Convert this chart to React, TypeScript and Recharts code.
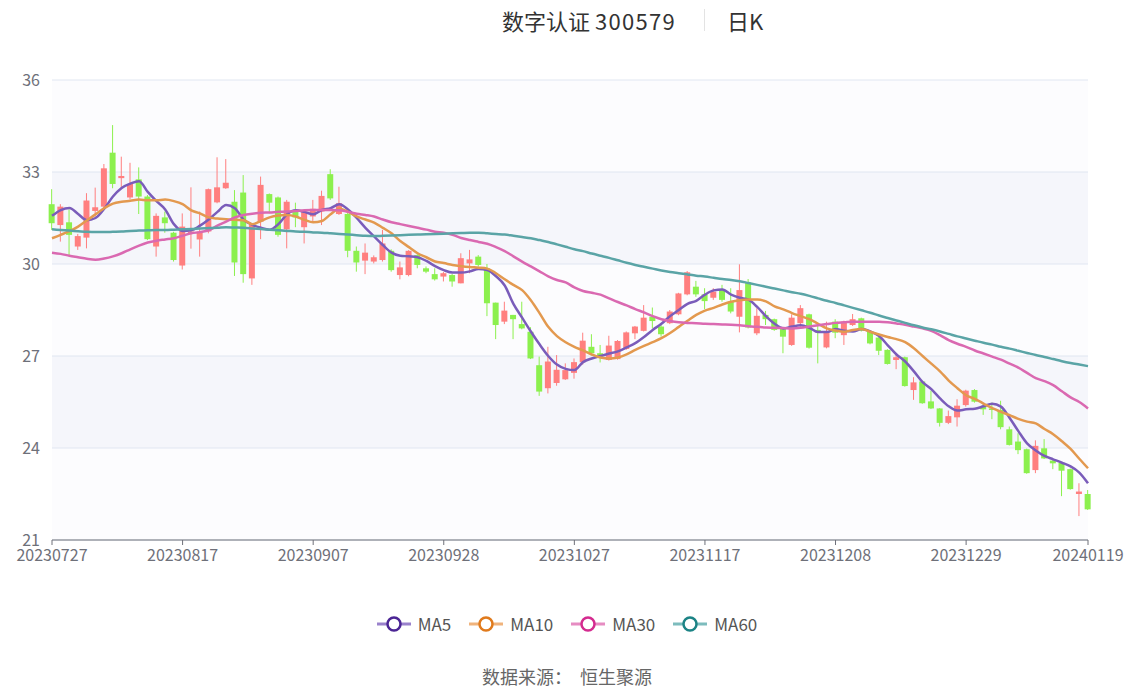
import React from "react";
import {
  ComposedChart,
  Bar,
  Line,
  XAxis,
  YAxis,
  CartesianGrid,
} from "recharts";

// x-axis labels and the candle index they sit on
const tickLabels = [
  "20230727", "20230817", "20230907", "20230928", "20231027",
  "20231117", "20231208", "20231229", "20240119",
];
const tickIndex = [0, 15, 30, 45, 60, 75, 90, 105, 119];
const yTicks = [21, 24, 27, 30, 33, 36];

const opens = [
  31.95, 31.27, 31.36, 30.57, 30.86, 31.73, 31.87, 33.63, 32.8, 32.17,
  32.76, 32.2, 30.57, 31.52, 31.02, 29.95, 31.0, 30.8, 31.06, 32.01,
  32.47, 32.03, 32.33, 29.53, 31.38, 32.28, 32.17, 31.13, 31.74, 31.2,
  31.55, 31.71, 32.93, 31.63, 31.63, 30.43, 30.11, 30.08, 30.13, 30.43,
  29.64, 29.64, 30.29, 29.86, 29.67, 29.59, 29.64, 29.37, 30.02, 30.24,
  29.86, 28.74, 28.12, 28.34, 28.04, 27.79, 26.7, 25.95, 26.12, 26.24,
  26.45, 26.8, 27.3, 27.09, 26.87, 26.9, 27.23, 27.74, 27.82, 28.28,
  27.96, 28.07, 28.36, 29.01, 29.26, 29.01, 28.9, 29.15, 28.77, 28.28,
  29.4, 27.74, 28.34, 28.2, 27.88, 27.36, 28.07, 28.36, 27.85, 27.28,
  28.12, 27.68, 28.01, 28.23, 27.79, 27.6, 27.2, 26.87, 26.96, 25.89,
  26.17, 25.52, 25.29, 24.82, 25.0, 25.4, 25.89, 25.37, 25.29, 25.24,
  24.61, 24.21, 23.96, 23.28, 23.99, 23.59, 23.52, 23.31, 22.5, 22.5,
];
const highs = [
  32.44, 31.95, 31.78, 30.98, 32.31, 32.49, 33.26, 34.53, 33.5, 33.3,
  33.15, 32.25, 31.65, 31.71, 31.05, 31.65, 32.5, 31.71, 32.46, 33.48,
  33.42, 32.41, 32.9, 31.27, 32.85, 32.3, 32.2, 32.09, 32.0, 31.76,
  32.09, 32.39, 33.09, 32.52, 31.66, 30.57, 30.67, 30.28, 31.11, 30.48,
  30.08, 30.45, 30.32, 29.92, 29.86, 29.74, 29.68, 30.35, 30.46, 30.29,
  30.0, 28.74, 28.77, 28.34, 28.77, 27.94, 26.98, 27.3, 27.03, 26.76,
  26.92, 27.76, 27.71, 27.36, 27.66, 27.52, 27.8, 27.98, 28.66, 28.58,
  28.07, 28.5, 29.06, 29.77, 29.45, 29.21, 29.21, 29.32, 29.21, 29.99,
  29.51, 28.56, 28.47, 28.22, 27.9, 28.36, 28.66, 28.38, 28.03, 28.12,
  28.2, 28.15, 28.37, 28.25, 27.82, 27.62, 27.22, 27.09, 26.98, 26.31,
  26.18, 25.87, 25.3, 25.22, 25.59, 25.9, 25.92, 25.43, 25.48, 25.54,
  24.7, 24.48, 23.98, 24.25, 24.29, 23.61, 23.54, 23.33, 22.85, 22.63,
];
const lows = [
  31.11, 30.73, 30.26, 30.46, 30.51, 31.54, 31.82, 32.47, 32.5, 32.11,
  31.63, 30.78, 30.24, 31.02, 30.08, 29.82, 30.5, 30.24, 31.0, 31.98,
  32.45, 29.61, 29.39, 29.32, 30.81, 31.65, 30.89, 30.51, 31.2, 30.67,
  31.4, 31.27, 32.09, 31.6, 30.22, 29.75, 29.67, 30.02, 30.08, 29.75,
  29.5, 29.6, 29.86, 29.7, 29.46, 29.43, 29.26, 29.37, 29.7, 29.91,
  28.3, 27.55, 28.04, 27.55, 27.87, 26.9, 25.7, 25.78, 26.03, 26.22,
  26.26, 26.72, 27.03, 26.79, 26.85, 26.88, 27.2, 27.55, 27.8, 27.9,
  27.63, 28.04, 28.33, 28.98, 28.93, 28.53, 28.83, 28.77, 28.39, 27.77,
  27.9, 27.68, 28.01, 27.82, 27.09, 27.33, 27.93, 27.24, 26.76, 27.25,
  27.58, 27.36, 27.98, 27.8, 27.38, 27.03, 26.72, 26.57, 26.0, 25.57,
  25.44, 25.27, 24.7, 24.78, 24.7, 25.35, 25.48, 25.08, 24.94, 24.61,
  24.08, 23.8, 23.16, 23.18, 23.64, 23.31, 22.43, 22.64, 21.78, 21.98,
];
const closes = [
  31.33, 31.87, 30.95, 30.91, 32.07, 31.85, 33.12, 32.61, 32.87, 32.61,
  32.2, 30.81, 31.57, 31.33, 30.13, 31.22, 31.06, 31.06, 32.44, 32.5,
  32.65, 30.05, 29.67, 31.27, 32.58, 32.0, 30.95, 32.03, 31.52, 31.71,
  31.8, 32.22, 32.14, 31.98, 30.43, 30.05, 30.37, 30.22, 30.67, 29.8,
  29.89, 30.43, 29.97, 29.75, 29.5, 29.7, 29.43, 30.19, 30.15, 29.97,
  28.72, 28.01, 28.48, 28.2, 27.9, 26.92, 25.84, 26.82, 26.55, 26.54,
  26.8, 27.5, 27.09, 27.01, 27.34, 27.49, 27.77, 27.96, 28.25, 28.14,
  27.71, 28.45, 29.04, 29.73, 29.01, 28.79, 29.1, 28.83, 28.45, 29.15,
  27.93, 28.31, 28.2, 27.85, 27.63, 28.25, 28.56, 27.27, 27.77, 27.8,
  27.76, 28.12, 28.2, 27.83, 27.41, 27.17, 26.74, 26.96, 26.02, 26.14,
  25.46, 25.29, 24.82, 25.04, 25.38, 25.87, 25.51, 25.26, 25.24, 24.68,
  24.1, 23.93, 23.18, 24.07, 23.66, 23.5, 23.26, 22.66, 22.58, 22.0,
];

const ma5 = [
  31.57, 31.76, 31.83, 31.63, 31.43, 31.5, 31.8, 32.2, 32.48, 32.62,
  32.7, 32.35, 32.05, 31.78, 31.3, 31.08, 31.1, 31.25, 31.45, 31.7,
  31.92, 31.82, 31.45, 31.28, 31.18, 31.12, 31.3, 31.62, 31.75, 31.7,
  31.62, 31.76, 31.82, 31.95, 31.78, 31.5, 31.18, 30.9, 30.62, 30.37,
  30.27, 30.25, 30.22, 30.1, 29.93, 29.8, 29.72, 29.72, 29.76, 29.84,
  29.8, 29.6, 29.3, 28.7, 28.25, 27.8, 27.38, 27.0, 26.72, 26.58,
  26.54, 26.8, 26.92, 27.0, 27.08, 27.15, 27.28, 27.42, 27.62, 27.85,
  28.05, 28.3, 28.5, 28.7, 28.8, 29.0, 29.14, 29.17, 29.0, 28.9,
  28.84, 28.6, 28.3, 28.05, 27.9, 27.96, 28.0, 27.92, 27.78, 27.78,
  27.88, 27.82, 27.8, 27.88, 27.8, 27.65, 27.35, 27.05, 26.82, 26.5,
  26.15, 25.92, 25.62, 25.36, 25.22, 25.26, 25.28, 25.36, 25.44, 25.35,
  24.98, 24.55, 24.15, 23.92, 23.74, 23.63, 23.52, 23.4, 23.2, 22.85,
];
const ma10 = [
  30.84, 30.95, 31.07, 31.22, 31.42, 31.62, 31.82, 31.97, 32.03, 32.06,
  32.1, 32.08, 32.08, 32.1, 32.05, 31.95, 31.75, 31.65, 31.52, 31.48,
  31.46, 31.44, 31.43, 31.3, 31.4, 31.52, 31.58, 31.6, 31.55, 31.44,
  31.36, 31.4, 31.62, 31.8, 31.7, 31.55, 31.45, 31.35, 31.18, 31.0,
  30.75, 30.55, 30.35, 30.22, 30.08, 30.03, 29.97, 29.93, 29.9, 29.88,
  29.85, 29.7, 29.5, 29.32, 29.15, 28.82, 28.4, 27.95, 27.65, 27.45,
  27.3, 27.18, 27.05, 26.95, 26.92, 26.95, 27.05, 27.2, 27.33, 27.45,
  27.58, 27.75, 27.95, 28.15, 28.34, 28.48, 28.57, 28.68, 28.77, 28.82,
  28.84, 28.84, 28.78, 28.62, 28.52, 28.4, 28.3, 28.2, 28.05, 27.9,
  27.83, 27.79, 27.85, 27.88, 27.79, 27.7, 27.62, 27.55, 27.45, 27.25,
  27.0, 26.75, 26.5, 26.2, 25.95, 25.72, 25.6, 25.45, 25.3, 25.18,
  25.07, 24.95, 24.86, 24.8, 24.62, 24.45, 24.22, 23.97, 23.65, 23.34,
];
const ma30 = [
  30.37, 30.33, 30.27, 30.22, 30.17, 30.14, 30.18, 30.25, 30.35, 30.48,
  30.6, 30.7, 30.76, 30.8, 30.84, 30.92, 31.0, 31.04, 31.1, 31.25,
  31.38, 31.52, 31.6, 31.64, 31.67, 31.68, 31.7, 31.71, 31.73, 31.75,
  31.76, 31.76, 31.76, 31.75, 31.7, 31.64, 31.6, 31.55, 31.45, 31.36,
  31.3, 31.24, 31.18, 31.12, 31.05, 31.02, 30.95, 30.85, 30.78, 30.72,
  30.66, 30.55, 30.42, 30.25, 30.08, 29.92, 29.76, 29.6, 29.48, 29.4,
  29.24, 29.12, 29.06, 29.0, 28.88, 28.76, 28.65, 28.53, 28.42, 28.3,
  28.2, 28.14, 28.1, 28.08, 28.07, 28.05, 28.04, 28.03, 28.02, 28.0,
  27.97, 27.95, 27.93, 27.92, 27.91, 27.9, 27.92, 27.96, 28.0, 28.04,
  28.08, 28.1, 28.12, 28.12, 28.12, 28.12, 28.1, 28.06, 28.02, 27.96,
  27.9, 27.82, 27.68, 27.52, 27.4, 27.3, 27.18, 27.08, 26.98, 26.88,
  26.75, 26.62, 26.45, 26.28, 26.18, 26.05, 25.85, 25.65, 25.5, 25.29,
];
const ma60 = [
  31.13, 31.11, 31.09, 31.07, 31.05, 31.04, 31.04, 31.05, 31.06, 31.08,
  31.09, 31.1, 31.11, 31.11, 31.12, 31.13, 31.14, 31.16, 31.17, 31.18,
  31.2, 31.19, 31.18, 31.16, 31.14, 31.12, 31.1, 31.08, 31.06, 31.05,
  31.03, 31.02, 31.0, 30.98, 30.96, 30.94, 30.92, 30.91, 30.92, 30.93,
  30.94, 30.95, 30.96, 30.97, 30.98, 30.99, 31.0, 31.01, 31.02, 31.02,
  31.0, 30.98, 30.96, 30.92, 30.88, 30.84, 30.78, 30.72, 30.64, 30.56,
  30.48, 30.42, 30.34, 30.27, 30.2, 30.12, 30.04, 29.97, 29.91, 29.85,
  29.79, 29.74, 29.7, 29.66, 29.62, 29.59, 29.55, 29.51, 29.48, 29.44,
  29.38, 29.32, 29.26, 29.2, 29.14, 29.08, 29.03, 28.96, 28.88, 28.8,
  28.73, 28.65, 28.57, 28.49, 28.41, 28.32, 28.24, 28.16, 28.08, 28.0,
  27.93, 27.87, 27.8, 27.72, 27.64, 27.57, 27.5, 27.43, 27.37, 27.3,
  27.24, 27.17, 27.1, 27.03, 26.97, 26.9, 26.83, 26.77, 26.72, 26.67,
];

const UP = "#ff7f7f";
const DOWN = "#8cf04e";

const MA_SERIES = [
  { key: "ma5", name: "MA5", line: "#7a5cba", icon: "#4b2594", iconLine: "#9a82cc" },
  { key: "ma10", name: "MA10", line: "#e3994f", icon: "#e07a1c", iconLine: "#f0b37c" },
  { key: "ma30", name: "MA30", line: "#da69b1", icon: "#d42b8f", iconLine: "#e68cc2" },
  { key: "ma60", name: "MA60", line: "#5aa4a6", icon: "#1c8385", iconLine: "#7dbcbd" },
];

const data = opens.map((open, i) => ({
  i,
  open,
  high: highs[i],
  low: lows[i],
  close: closes[i],
  range: [lows[i], highs[i]],
  ma5: ma5[i],
  ma10: ma10[i],
  ma30: ma30[i],
  ma60: ma60[i],
}));

const FONT = '"Noto Sans CJK SC", "Noto Sans", sans-serif';

function Candle(props: any) {
  const { x, y, width, height, payload } = props;
  if (!payload || height == null) return null;
  const { open, close, high, low } = payload;
  const ratio = high - low > 0 ? height / (high - low) : 0;
  const yOpen = y + (high - open) * ratio;
  const yClose = y + (high - close) * ratio;
  const cx = x + width / 2;
  const color = close >= open ? UP : DOWN;
  const top = Math.min(yOpen, yClose);
  const bodyH = Math.max(1, Math.abs(yOpen - yClose));
  const bodyW = 6;
  return (
    <g>
      <line x1={cx} x2={cx} y1={y} y2={y + height} stroke={color} strokeWidth={1} />
      <rect x={cx - bodyW / 2} y={top} width={bodyW} height={bodyH} fill={color} />
    </g>
  );
}

function LegendIcon({ line, icon }: { line: string; icon: string }) {
  return (
    <svg width={34} height={18}>
      <line x1={0} x2={34} y1={9} y2={9} stroke={line} strokeWidth={3} />
      <circle cx={17} cy={9} r={6.5} fill="#fff" stroke={icon} strokeWidth={2.5} />
    </svg>
  );
}

export default function App() {
  return (
    <div
      style={{
        position: "absolute",
        left: 0,
        top: 0,
        width: 1134,
        height: 689,
        background: "#fff",
        fontFamily: FONT,
      }}
    >
      {/* title */}
      <div
        style={{
          position: "absolute",
          top: 4,
          left: 502,
          fontSize: 22,
          color: "#333",
          whiteSpace: "nowrap",
          lineHeight: "32px",
        }}
      >
        数字认证 <span style={{ letterSpacing: 1.3 }}>300579</span>
      </div>
      <div
        style={{
          position: "absolute",
          top: 9,
          left: 704,
          width: 1,
          height: 22,
          background: "#e3e3e3",
        }}
      />
      <div
        style={{
          position: "absolute",
          top: 4,
          left: 727,
          fontSize: 22,
          color: "#333",
          whiteSpace: "nowrap",
          lineHeight: "32px",
        }}
      >
        日K
      </div>

      <div style={{ position: "absolute", left: 0, top: 0 }}>
        <ComposedChart
          width={1134}
          height={689}
          data={data}
          margin={{ top: 80, right: 46, bottom: 119, left: 0 }}
        >
          <CartesianGrid
            vertical={false}
            stroke="#e0e6f1"
            horizontalFill={["#fcfcfe", "#f5f6fb"]}
          />
          <XAxis
            dataKey="i"
            type="number"
            domain={[0, 119]}
            ticks={tickIndex}
            interval={0}
            height={30}
            tickFormatter={(v: number) => tickLabels[tickIndex.indexOf(v)] ?? ""}
            axisLine={{ stroke: "#6e7079" }}
            tickLine={{ stroke: "#6e7079" }}
            tickSize={5}
            tickMargin={5}
            tick={{ fill: "#6e7079", fontSize: 16, fontFamily: FONT }}
          />
          <YAxis
            type="number"
            domain={[21, 36]}
            ticks={yTicks}
            width={52}
            axisLine={false}
            tickLine={false}
            tickSize={0}
            tickMargin={12}
            tick={{ fill: "#6e7079", fontSize: 16, fontFamily: FONT }}
          />
          <Bar
            dataKey="range"
            barSize={6}
            shape={<Candle />}
            isAnimationActive={false}
          />
          {MA_SERIES.map((s) => (
            <Line
              key={s.key}
              type="monotone"
              dataKey={s.key}
              name={s.name}
              stroke={s.line}
              strokeWidth={2.5}
              dot={false}
              activeDot={false}
              isAnimationActive={false}
            />
          ))}
        </ComposedChart>
      </div>

      {/* legend */}
      <div
        style={{
          position: "absolute",
          top: 611,
          left: 0,
          width: 1134,
          display: "flex",
          justifyContent: "center",
          gap: 18,
          fontSize: 17,
          color: "#555",
          lineHeight: "26px",
        }}
      >
        {MA_SERIES.map((s) => (
          <div key={s.key} style={{ display: "flex", alignItems: "center", gap: 7 }}>
            <LegendIcon line={s.iconLine} icon={s.icon} />
            <span>{s.name}</span>
          </div>
        ))}
      </div>

      {/* source */}
      <div
        style={{
          position: "absolute",
          top: 663,
          left: 0,
          width: 1134,
          textAlign: "center",
          fontSize: 18,
          color: "#666",
          lineHeight: "26px",
          whiteSpace: "pre",
        }}
      >
        {"数据来源：  恒生聚源"}
      </div>
    </div>
  );
}
